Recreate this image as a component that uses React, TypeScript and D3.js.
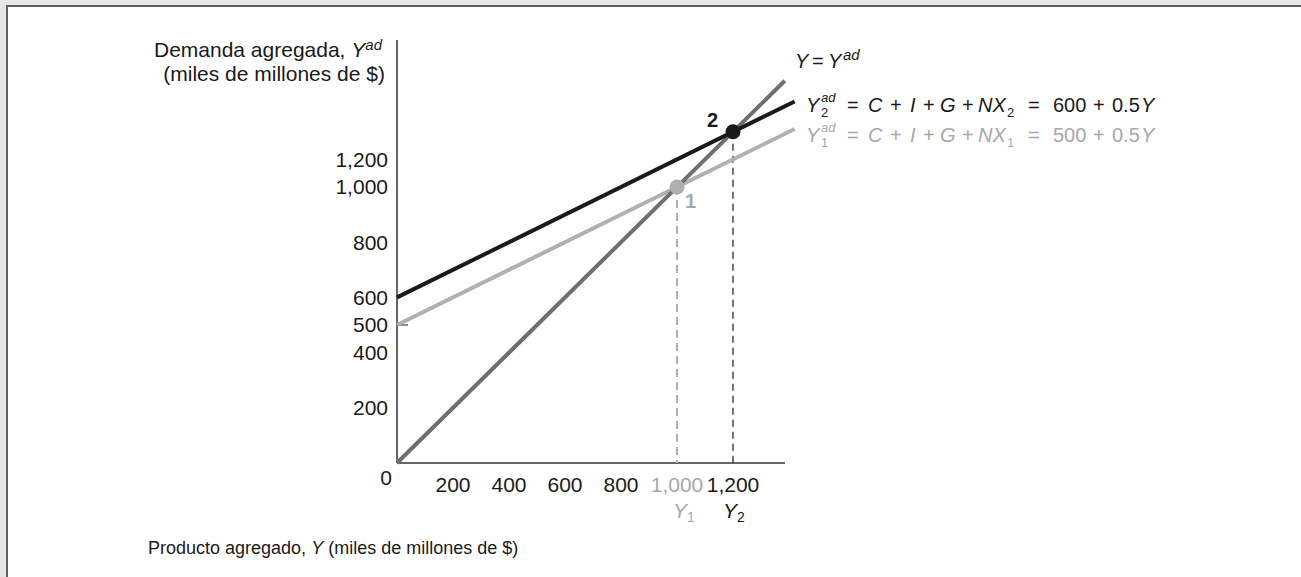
import React from "react";
import * as d3 from "d3";

const W = 1301;
const H = 577;

// Data
const xTickValues = [200, 400, 600, 800, 1000, 1200];
const xTickLabels = ["200", "400", "600", "800", "1,000", "1,200"];
const yTickValues = [200, 400, 500, 600, 800, 1000, 1200];
const yTickLabels = ["200", "400", "500", "600", "800", "1,000", "1,200"];
const ad1 = { intercept: 500, slope: 0.5 };
const ad2 = { intercept: 600, slope: 0.5 };
const equilibria = [
  { name: "1", y: 1000 },
  { name: "2", y: 1200 },
];
const xMax = 1420;
const diagMax = 1385;

const COL_BLACK = "#1a1a1a";
const COL_DIAG = "#6e6e6e";
const COL_LIGHT = "#b0b0b0";
const COL_LIGHT_TEXT = "#a8a8a8";
const FONT = "'Liberation Sans', Arial, Helvetica, sans-serif";
const FS = 21;
const FS_EQ = 20;
const FS_SMALL = 13;

export default function App() {
  const x = d3.scaleLinear().domain([0, 1000]).range([397, 677]);
  const y = d3.scaleLinear().domain([0, 1000]).range([463, 187]);
  const line = d3
    .line<[number, number]>()
    .x((d) => x(d[0]))
    .y((d) => y(d[1]));

  const adPts = (p: { intercept: number; slope: number }): [number, number][] => [
    [0, p.intercept],
    [xMax, p.intercept + p.slope * xMax],
  ];

  const e1 = equilibria[0];
  const e2 = equilibria[1];

  const Equation = ({
    x0,
    yb,
    sub,
    num,
    color,
  }: {
    x0: number;
    yb: number;
    sub: string;
    num: string;
    color: string;
  }) => {
    const tokens: { t: string; dx: number; it?: boolean; small?: boolean; dy?: number }[] = [
      { t: "Y", dx: 0, it: true },
      { t: "ad", dx: 15, it: true, small: true, dy: -10 },
      { t: sub, dx: 15, small: true, dy: 5 },
      { t: "=", dx: 41 },
      { t: "C", dx: 62, it: true },
      { t: "+", dx: 84 },
      { t: "I", dx: 104, it: true },
      { t: "+", dx: 117 },
      { t: "G", dx: 134, it: true },
      { t: "+", dx: 156 },
      { t: "NX", dx: 172, it: true },
      { t: sub, dx: 201, small: true, dy: 5 },
      { t: "=", dx: 222 },
      { t: num, dx: 247 },
      { t: "+", dx: 287 },
      { t: "0.5", dx: 306 },
      { t: "Y", dx: 335, it: true },
    ];
    return (
      <g fill={color} fontFamily={FONT} fontSize={FS_EQ}>
        {tokens.map((tk, i) => (
          <text
            key={i}
            x={x0 + tk.dx}
            y={yb + (tk.dy || 0)}
            fontStyle={tk.it ? "italic" : "normal"}
            fontSize={tk.small ? FS_SMALL : FS_EQ}
          >
            {tk.t}
          </text>
        ))}
      </g>
    );
  };

  return (
    <svg
      width={W}
      height={H}
      style={{ position: "absolute", left: 0, top: 0, background: "#e6e6e6" }}
      fontFamily={FONT}
    >
      {/* frame */}
      <rect x={7} y={6} width={W + 20} height={H + 20} fill="#ffffff" stroke="#5f5f5f" strokeWidth={2} />

      {/* axes */}
      <line x1={x(0)} y1={y(0)} x2={x(0)} y2={40} stroke="#333" strokeWidth={1.5} />
      <line x1={x(0)} y1={y(0)} x2={785} y2={y(0)} stroke="#333" strokeWidth={1.5} />
      {/* 500 tick */}
      <line x1={x(0)} y1={y(500)} x2={x(0) + 11} y2={y(500)} stroke="#666" strokeWidth={1.5} />

      {/* dashed guides */}
      <line x1={x(e1.y)} y1={y(e1.y)} x2={x(e1.y)} y2={y(0)} stroke={COL_LIGHT} strokeWidth={2} strokeDasharray="8,5" />
      <line x1={x(e2.y)} y1={y(e2.y)} x2={x(e2.y)} y2={y(0)} stroke={COL_BLACK} strokeWidth={1.2} strokeDasharray="7,5" />

      {/* lines */}
      <path d={line(adPts(ad1)) || ""} stroke={COL_LIGHT} strokeWidth={4} fill="none" />
      <path d={line([[0, 0], [diagMax, diagMax]]) || ""} stroke={COL_DIAG} strokeWidth={4} fill="none" />
      <path d={line(adPts(ad2)) || ""} stroke={COL_BLACK} strokeWidth={4} fill="none" />

      {/* points */}
      <circle cx={x(e1.y)} cy={y(e1.y)} r={7.5} fill={COL_LIGHT} />
      <circle cx={x(e2.y)} cy={y(e2.y)} r={7.5} fill={COL_BLACK} />
      <text x={x(e1.y) + 8} y={y(e1.y) + 21} fontSize={20} fontWeight="bold" fill={COL_LIGHT_TEXT}>{e1.name}</text>
      <text x={x(e2.y) - 26} y={y(e2.y) - 5} fontSize={20} fontWeight="bold" fill={COL_BLACK}>{e2.name}</text>

      {/* y tick labels */}
      {yTickValues.map((v, i) => (
        <text
          key={v}
          x={388}
          y={v === 1200 ? y(1100) : y(v)}
          dy="0.35em"
          textAnchor="end"
          fontSize={FS}
          fill="#1a1a1a"
        >
          {yTickLabels[i]}
        </text>
      ))}
      <text x={386} y={485} textAnchor="middle" fontSize={FS} fill="#1a1a1a">0</text>

      {/* x tick labels */}
      {xTickValues.map((v, i) => (
        <text
          key={v}
          x={x(v)}
          y={492}
          textAnchor="middle"
          fontSize={FS}
          fill={v === e1.y ? COL_LIGHT_TEXT : "#1a1a1a"}
        >
          {xTickLabels[i]}
        </text>
      ))}
      <text x={x(e1.y) - 4} y={518} fontSize={FS} fill={COL_LIGHT_TEXT} fontStyle="italic">
        Y<tspan fontSize={FS_SMALL + 1} fontStyle="normal" dy={4}>1</tspan>
      </text>
      <text x={x(e2.y) - 10} y={518} fontSize={FS} fill="#1a1a1a" fontStyle="italic">
        Y<tspan fontSize={FS_SMALL + 1} fontStyle="normal" dy={4}>2</tspan>
      </text>

      {/* axis titles */}
      <text x={382} y={57} textAnchor="end" fontSize={FS} fill="#1a1a1a">
        Demanda agregada, <tspan fontStyle="italic">Y</tspan>
        <tspan fontStyle="italic" fontSize={FS_SMALL + 2} dy={-7}>ad</tspan>
      </text>
      <text x={385} y={81} textAnchor="end" fontSize={FS} fill="#1a1a1a">
        (miles de millones de $)
      </text>
      <text x={148} y={554} fontSize={18} fill="#1a1a1a">
        Producto agregado, <tspan fontStyle="italic">Y</tspan> (miles de millones de $)
      </text>

      {/* line labels */}
      <g fontSize={FS_EQ} fill="#1a1a1a">
        <text x={795} y={68} fontStyle="italic">Y</text>
        <text x={812} y={68}>=</text>
        <text x={828} y={68} fontStyle="italic">Y</text>
        <text x={843} y={60} fontStyle="italic" fontSize={FS_SMALL + 2}>ad</text>
      </g>
      <Equation x0={806} yb={112} sub="2" num="600" color={COL_BLACK} />
      <Equation x0={806} yb={142} sub="1" num="500" color={COL_LIGHT_TEXT} />
    </svg>
  );
}
